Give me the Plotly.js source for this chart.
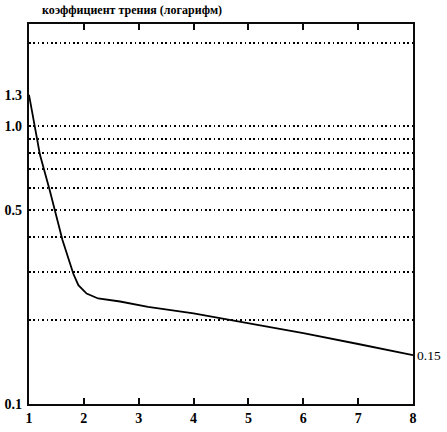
<!DOCTYPE html>
<html><head><meta charset="utf-8">
<script src="https://cdn.plot.ly/plotly-3.0.1.min.js"></script>
<style>html,body{margin:0;padding:0;background:#fff}</style>
</head><body><div id="chart" style="width:447px;height:432px"></div>
<script>
// data
const xValues = [1.0, 1.2, 1.38, 1.61, 1.81, 1.9, 2.05, 2.26, 2.66, 3.17, 4, 5, 6, 7, 8];
const frictionLog = [1.3, 0.79, 0.586, 0.39, 0.294, 0.268, 0.25, 0.24, 0.234, 0.224, 0.212, 0.195, 0.18, 0.1645, 0.15];
const xTicks = [1, 2, 3, 4, 5, 6, 7, 8];
const yTickVals = [0.1, 0.5, 1.0, 1.3];
const yTickText = ["0.1", "0.5", "1.0", "1.3"];
const gridVals = [0.2, 0.3, 0.4, 0.5, 0.6, 0.7, 0.8, 0.9, 1.0, 2.0];
const rightTickVals = [0.15];
const rightTickText = ["0.15"];
const titleText = "коэффициент трения (логарифм)";

const fam = "Liberation Serif, Times New Roman, serif";
const yFont = {family: fam, size: 14, color: "#000", weight: "bold"};
const xFont = {family: fam, size: 14, color: "#000", weight: "bold"};
const rFont = {family: fam, size: 13.5, color: "#000"};
const yRange = [-1, 0.369];
const ink = "rgb(10,10,10)";

const data = [
  {x: xValues, y: frictionLog, type: "scatter", mode: "lines",
   line: {color: "#000", width: 1.8}, hoverinfo: "skip", showlegend: false}
];

const layout = {
  width: 447, height: 432,
  margin: {l: 29, r: 34, t: 24, b: 28},
  paper_bgcolor: "#fff", plot_bgcolor: "#fff",
  font: rFont,
  showlegend: false,
  xaxis: {
    range: [1, 8], tickvals: xTicks, ticktext: xTicks.map(String),
    ticks: "inside", ticklen: 6, tickwidth: 2, tickcolor: ink,
    showline: true, linecolor: ink, linewidth: 2.2, mirror: "allticks",
    showgrid: false, zeroline: false, tickfont: xFont
  },
  yaxis: {
    type: "log", range: yRange, tickvals: yTickVals, ticktext: yTickText,
    ticks: "", showline: true, linecolor: ink, linewidth: 2.2, mirror: true,
    showgrid: false, zeroline: false, tickfont: yFont, ticklabelstandoff: 2,
    minor: {
      tickvals: gridVals, ticks: "", showgrid: true,
      gridcolor: "#000", gridwidth: 1.6, griddash: "1.6px,2.8px"
    }
  },
  annotations: [
    {
      text: titleText, xref: "paper", yref: "paper", x: 0.028, y: 1, yshift: 5,
      xanchor: "left", yanchor: "bottom", showarrow: false,
      font: {family: fam, size: 12, color: "#000", weight: "bold"}
    },
    ...rightTickVals.map((v, i) => ({
      text: rightTickText[i], xref: "paper", yref: "y", x: 1, y: Math.log10(v),
      xanchor: "left", yanchor: "middle", xshift: 2, showarrow: false, font: rFont
    }))
  ]
};

Plotly.newPlot("chart", data, layout, {displayModeBar: false});
</script></body></html>
